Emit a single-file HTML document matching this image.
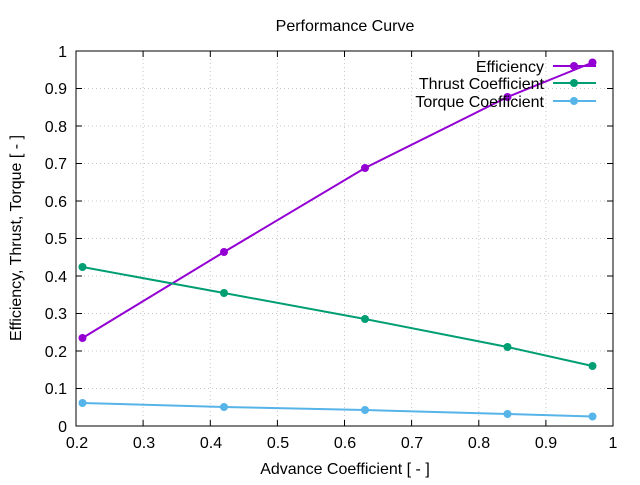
<!DOCTYPE html>
<html><head><meta charset="utf-8"><style>
body{margin:0;background:#fff;}
text{font-family:"Liberation Sans",sans-serif;font-size:16px;fill:#000;}
</style></head><body>
<svg width="640" height="480" xmlns="http://www.w3.org/2000/svg">
<rect width="640" height="480" fill="#fff"/>
<g stroke="#c8c8c8" stroke-width="1" stroke-dasharray="1,3">
<line x1="143.1" y1="51" x2="143.1" y2="426"/><line x1="210.3" y1="51" x2="210.3" y2="426"/>
<line x1="277.4" y1="51" x2="277.4" y2="426"/><line x1="344.5" y1="51" x2="344.5" y2="426"/>
<line x1="411.6" y1="51" x2="411.6" y2="426"/><line x1="478.8" y1="51" x2="478.8" y2="426"/>
<line x1="545.9" y1="51" x2="545.9" y2="426"/>
<line x1="76" y1="388.5" x2="613" y2="388.5"/><line x1="76" y1="351" x2="613" y2="351"/>
<line x1="76" y1="313.5" x2="613" y2="313.5"/><line x1="76" y1="276" x2="613" y2="276"/>
<line x1="76" y1="238.5" x2="613" y2="238.5"/><line x1="76" y1="201" x2="613" y2="201"/>
<line x1="76" y1="163.5" x2="613" y2="163.5"/><line x1="76" y1="126" x2="613" y2="126"/>
<line x1="76" y1="88.5" x2="613" y2="88.5"/>
</g>
<g stroke="#000" stroke-width="1">
<rect x="76" y="51" width="537" height="375" fill="none"/>
<path d="M143.1 426v-6M210.3 426v-6M277.4 426v-6M344.5 426v-6M411.6 426v-6M478.8 426v-6M545.9 426v-6M143.1 51v6M210.3 51v6M277.4 51v6M344.5 51v6M411.6 51v6M478.8 51v6M545.9 51v6"/>
<path d="M76 388.5h6M76 351h6M76 313.5h6M76 276h6M76 238.5h6M76 201h6M76 163.5h6M76 126h6M76 88.5h6M613 388.5h-6M613 351h-6M613 313.5h-6M613 276h-6M613 238.5h-6M613 201h-6M613 163.5h-6M613 126h-6M613 88.5h-6"/>
</g>
<g text-anchor="end">
<text x="67" y="432">0</text><text x="67" y="394">0.1</text><text x="67" y="357">0.2</text>
<text x="67" y="319">0.3</text><text x="67" y="282">0.4</text><text x="67" y="244">0.5</text>
<text x="67" y="207">0.6</text><text x="67" y="169">0.7</text><text x="67" y="132">0.8</text>
<text x="67" y="94">0.9</text><text x="67" y="57">1</text>
</g>
<g text-anchor="middle">
<text x="77" y="448">0.2</text><text x="144" y="448">0.3</text><text x="211" y="448">0.4</text>
<text x="278" y="448">0.5</text><text x="345" y="448">0.6</text><text x="412" y="448">0.7</text>
<text x="479" y="448">0.8</text><text x="546" y="448">0.9</text><text x="613" y="448">1</text>
<text x="345" y="474">Advance Coefficient [ - ]</text>
<text x="345" y="31">Performance Curve</text>
<text transform="translate(21,238) rotate(-90)">Efficiency, Thrust, Torque [ - ]</text>
</g>
<g fill="none" stroke-width="2">
<polyline stroke="#9400d3" points="82.5,338 224,252 365,168 507.5,97 592.5,62.5"/>
<polyline stroke="#009e73" points="82.5,267 224,293 365,319 507.5,347 592.5,366"/>
<polyline stroke="#56b4e9" points="82.5,403 224,407 365,410 507.5,414 592.5,416.5"/>
<line stroke="#9400d3" x1="553" y1="66" x2="596" y2="66"/>
<line stroke="#009e73" x1="553" y1="83" x2="596" y2="83"/>
<line stroke="#56b4e9" x1="553" y1="101" x2="596" y2="101"/>
</g>
<g fill="#9400d3"><circle cx="82.5" cy="338" r="4"/><circle cx="224" cy="252" r="4"/><circle cx="365" cy="168" r="4"/><circle cx="507.5" cy="97" r="4"/><circle cx="592.5" cy="62.5" r="4"/><circle cx="574" cy="66" r="4"/></g>
<g fill="#009e73"><circle cx="82.5" cy="267" r="4"/><circle cx="224" cy="293" r="4"/><circle cx="365" cy="319" r="4"/><circle cx="507.5" cy="347" r="4"/><circle cx="592.5" cy="366" r="4"/><circle cx="574" cy="83" r="4"/></g>
<g fill="#56b4e9"><circle cx="82.5" cy="403" r="4"/><circle cx="224" cy="407" r="4"/><circle cx="365" cy="410" r="4"/><circle cx="507.5" cy="414" r="4"/><circle cx="592.5" cy="416.5" r="4"/><circle cx="574" cy="101" r="4"/></g>
<g text-anchor="end">
<text x="544" y="72">Efficiency</text>
<text x="544" y="89">Thrust Coefficient</text>
<text x="544" y="107">Torque Coefficient</text>
</g>
</svg>
</body></html>
